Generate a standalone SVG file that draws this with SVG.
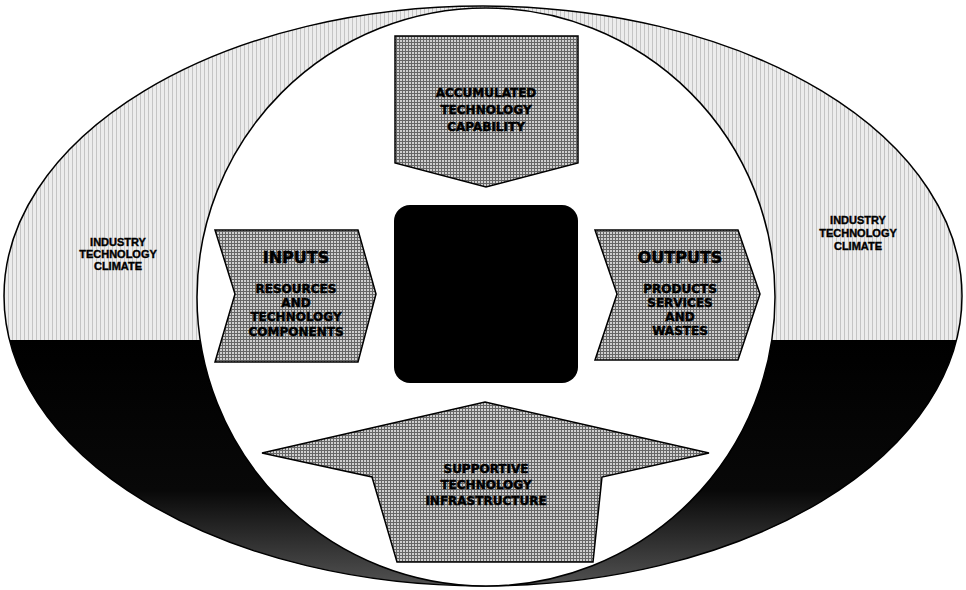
<svg xmlns="http://www.w3.org/2000/svg" width="966" height="590" viewBox="0 0 966 590">
<style>
.t{font-family:"DejaVu Sans","Liberation Sans",Arial,sans-serif;font-weight:bold;font-size:12px;fill:#000;stroke:#000;stroke-width:0.5;text-anchor:middle}
.s{font-family:"Liberation Sans",Arial,sans-serif;font-size:11px;stroke-width:0.4}
.big{font-size:16px}
.shape{fill:url(#grid);stroke:#000;stroke-width:1.5}
</style>
<defs>
<pattern id="grid" width="3" height="3" patternUnits="userSpaceOnUse">
<rect width="3" height="3" fill="#cfcfcf"/>
<rect width="3" height="1" fill="#666"/>
<rect width="1" height="3" fill="#666"/>
</pattern>
<pattern id="light" width="4" height="4" patternUnits="userSpaceOnUse">
<rect width="4" height="4" fill="#ececec"/>
<rect width="1" height="4" fill="#c4c4c4"/>
</pattern>
<linearGradient id="dark" x1="0" y1="0" x2="0" y2="1">
<stop offset="0" stop-color="#000"/>
<stop offset="0.6" stop-color="#080808"/>
<stop offset="1" stop-color="#555"/>
</linearGradient>
<clipPath id="ell"><ellipse cx="483" cy="296" rx="479" ry="290"/></clipPath>
</defs>
<g id="climate">
<ellipse cx="483" cy="296" rx="479" ry="290" fill="url(#light)"/>
<rect x="0" y="340" width="966" height="250" fill="url(#dark)" clip-path="url(#ell)"/>
<ellipse cx="483" cy="296" rx="479" ry="290" fill="none" stroke="#000" stroke-width="1.5"/>
<text class="t s" x="118" y="246">INDUSTRY</text>
<text class="t s" x="118" y="258">TECHNOLOGY</text>
<text class="t s" x="118" y="270">CLIMATE</text>
<text class="t s" x="858" y="224">INDUSTRY</text>
<text class="t s" x="858" y="237">TECHNOLOGY</text>
<text class="t s" x="858" y="250">CLIMATE</text>
</g>
<g id="environment">
<circle cx="486" cy="297" r="289" fill="#fff" stroke="#000" stroke-width="1.5"/>
</g>
<g id="connectors"></g>
<g id="core">
<rect x="394" y="205" width="184" height="178" rx="16" fill="#000"/>
</g>
<g id="capability">
<polygon class="shape" points="395,36 578,36 578,163 486,187 395,163"/>
<text class="t" x="486" y="97">ACCUMULATED</text>
<text class="t" x="486" y="114">TECHNOLOGY</text>
<text class="t" x="486" y="131">CAPABILITY</text>
</g>
<g id="inputs">
<polygon class="shape" points="215,230 358,230 376,294 358,362 215,362 235,294"/>
<text class="t big" x="296" y="263">INPUTS</text>
<text class="t" x="296" y="293">RESOURCES</text>
<text class="t" x="296" y="307">AND</text>
<text class="t" x="296" y="321">TECHNOLOGY</text>
<text class="t" x="296" y="336">COMPONENTS</text>
</g>
<g id="outputs">
<polygon class="shape" points="595,230 738,230 760,294 738,360 595,360 617,294"/>
<text class="t big" x="680" y="263">OUTPUTS</text>
<text class="t" x="680" y="293">PRODUCTS</text>
<text class="t" x="680" y="307">SERVICES</text>
<text class="t" x="680" y="321">AND</text>
<text class="t" x="680" y="335">WASTES</text>
</g>
<g id="infrastructure">
<polygon class="shape" points="485,402 709,453 602,477 593,562 397,562 372,477 262,453"/>
<text class="t" x="486" y="473">SUPPORTIVE</text>
<text class="t" x="486" y="489">TECHNOLOGY</text>
<text class="t" x="486" y="505">INFRASTRUCTURE</text>
</g>
</svg>
